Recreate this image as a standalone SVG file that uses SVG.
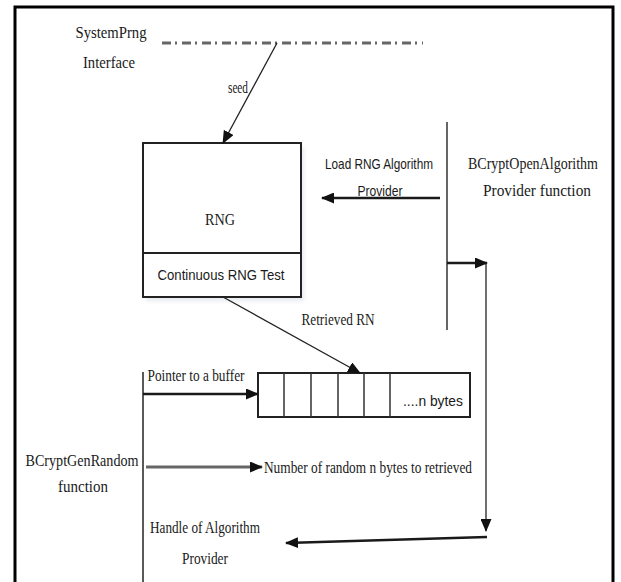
<svg xmlns="http://www.w3.org/2000/svg" width="621" height="582" viewBox="0 0 621 582">
<style>
.serif{font-family:"Liberation Serif","Times New Roman",serif;font-size:17px;fill:#1a1a1a}
.sans{font-family:"Liberation Sans",Arial,sans-serif;font-size:15px;fill:#1a1a1a}
.box{fill:#fff;stroke:#222;stroke-width:2}
.thin{fill:none;stroke:#222;stroke-width:1.3}
.thick{fill:none;stroke:#1a1a1a;stroke-width:2.4}
.gray{fill:none;stroke:#666;stroke-width:3}
</style>
<defs>
<marker id="ah" markerUnits="userSpaceOnUse" markerWidth="13" markerHeight="11" refX="12" refY="5.5" orient="auto">
<path d="M0,0 L13,5.5 L0,11 Z" fill="#111"/>
</marker>
<filter id="sh" x="-5%" y="-5%" width="115%" height="115%">
<feGaussianBlur stdDeviation="2"/>
</filter>
</defs>
<rect width="621" height="582" fill="#fff"/>
<g id="frame">
<path d="M15,582 V7 H613 V582" fill="none" stroke="#000" stroke-width="3"/>
</g>
<g id="systemprng">
<text class="serif" x="111" y="38" text-anchor="middle" textLength="71" lengthAdjust="spacingAndGlyphs">SystemPrng</text>
<text class="serif" x="109" y="68" text-anchor="middle" textLength="52" lengthAdjust="spacingAndGlyphs">Interface</text>
<line x1="162" y1="43" x2="423" y2="43" stroke="#666" stroke-width="3" stroke-dasharray="9 4 2 5"/>
</g>
<g id="rng">
<rect x="146" y="147" width="158" height="154" fill="#cfd6e0" opacity="0.5" filter="url(#sh)"/>
<rect class="box" x="143" y="143" width="158" height="154"/>
<line class="box" x1="143" y1="253" x2="301" y2="253"/>
<text class="serif" x="220" y="225" text-anchor="middle" textLength="30" lengthAdjust="spacingAndGlyphs">RNG</text>
<text class="sans" x="221" y="280" text-anchor="middle" textLength="127" lengthAdjust="spacingAndGlyphs">Continuous RNG Test</text>
</g>
<g id="openalg">
<text class="serif" x="533" y="169" text-anchor="middle" font-size="15" textLength="130" lengthAdjust="spacingAndGlyphs">BCryptOpenAlgorithm</text>
<text class="serif" x="537" y="196" text-anchor="middle" textLength="108" lengthAdjust="spacingAndGlyphs">Provider function</text>
<line x1="447" y1="122" x2="447" y2="330" stroke="#333" stroke-width="1.5"/>
</g>
<g id="buffer">
<rect class="box" x="258" y="373" width="212" height="44" stroke-width="1.6"/>
<path d="M284,373 V417 M311,373 V417 M338,373 V417 M364,373 V417 M390,373 V417" stroke="#333" stroke-width="1.5"/>
<text class="sans" x="463" y="406" text-anchor="end" textLength="60" lengthAdjust="spacingAndGlyphs">....n bytes</text>
</g>
<g id="genrandom">
<text class="serif" x="82" y="466" text-anchor="middle" textLength="113" lengthAdjust="spacingAndGlyphs">BCryptGenRandom</text>
<text class="serif" x="83" y="492" text-anchor="middle" textLength="50" lengthAdjust="spacingAndGlyphs">function</text>
<line x1="143" y1="372" x2="143" y2="582" stroke="#222" stroke-width="1.5"/>
</g>
<g id="connectors">
<line class="thin" x1="277" y1="43" x2="223" y2="143" marker-end="url(#ah)"/>
<line class="thick" x1="440" y1="198" x2="322" y2="198" marker-end="url(#ah)"/>
<line class="thick" x1="447" y1="263" x2="487" y2="263" marker-end="url(#ah)"/>
<line class="thin" x1="486" y1="263" x2="486" y2="531" marker-end="url(#ah)"/>
<line class="thick" x1="487" y1="537" x2="286" y2="543" marker-end="url(#ah)"/>
<line class="thin" x1="223" y1="297" x2="360" y2="373" marker-end="url(#ah)"/>
<line class="thick" x1="143" y1="394" x2="258" y2="394" marker-end="url(#ah)"/>
<line class="gray" x1="146" y1="467" x2="262" y2="467" marker-end="url(#ah)"/>
</g>
<g id="labels">
<text class="serif" x="238" y="93" text-anchor="middle" font-size="14" textLength="20" lengthAdjust="spacingAndGlyphs">seed</text>
<text class="sans" x="379" y="169" text-anchor="middle" textLength="108" lengthAdjust="spacingAndGlyphs">Load RNG Algorithm</text>
<text class="sans" x="380" y="196" text-anchor="middle" textLength="45" lengthAdjust="spacingAndGlyphs">Provider</text>
<text class="serif" x="338" y="325" text-anchor="middle" textLength="73" lengthAdjust="spacingAndGlyphs">Retrieved RN</text>
<text class="serif" x="196" y="381" text-anchor="middle" textLength="97" lengthAdjust="spacingAndGlyphs">Pointer to a buffer</text>
<text class="serif" x="264" y="473" textLength="208" lengthAdjust="spacingAndGlyphs">Number of random n bytes to retrieved</text>
<text class="serif" x="205" y="533" text-anchor="middle" textLength="110" lengthAdjust="spacingAndGlyphs">Handle of Algorithm</text>
<text class="serif" x="205" y="564" text-anchor="middle" textLength="46" lengthAdjust="spacingAndGlyphs">Provider</text>
</g>
</svg>
